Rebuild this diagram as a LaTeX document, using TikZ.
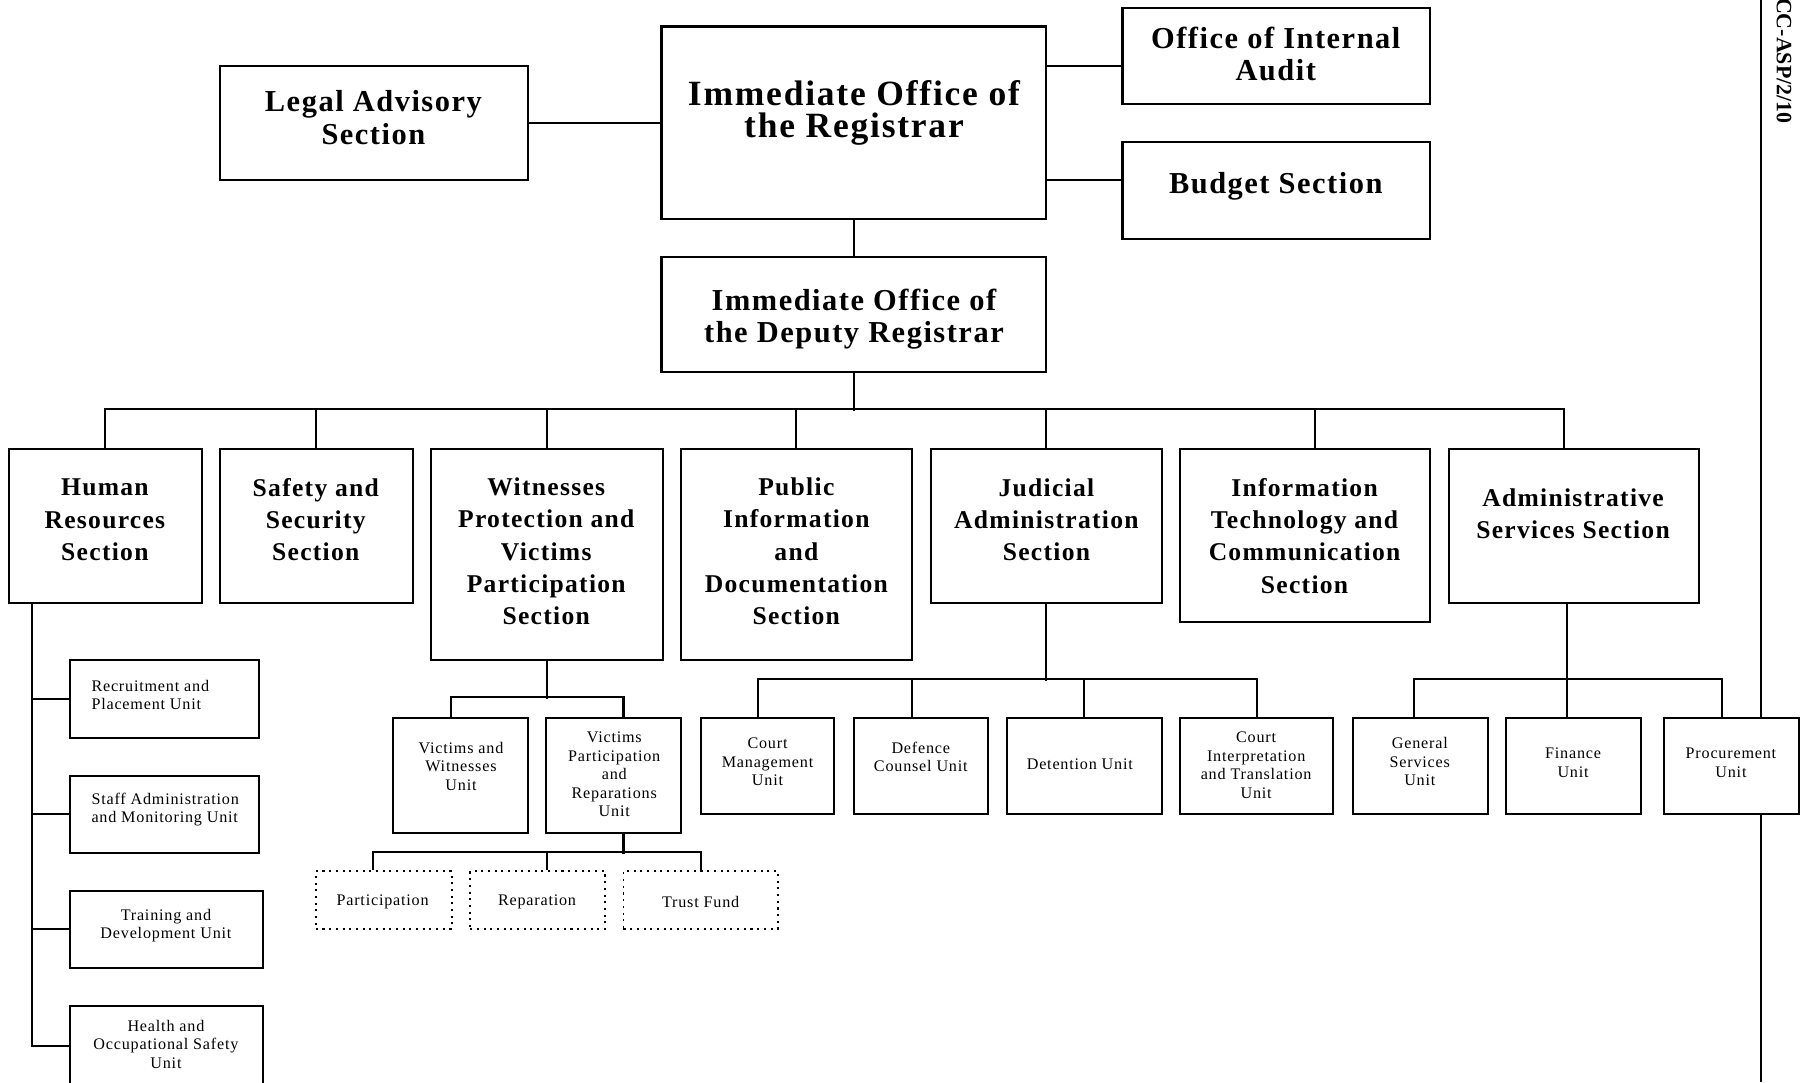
\documentclass[tikz,border=0pt]{standalone}
\usepackage{fontspec}
\setmainfont{Liberation Serif}
\newfontfamily\iccfont[LetterSpace=5]{Liberation Serif}
\begin{document}
\begin{tikzpicture}[x=1pt,y=-1pt]
        \tikzset{
        icc box/.style={draw,line width=0.9pt,fill=white,inner sep=0},
        icc sub/.style={icc box,dotted,line width=0.7pt},
        icc big/.style={align=center,inner sep=0,font=\iccfont\bfseries\fontsize{15.4}{14}\selectfont},
        icc head/.style={align=center,inner sep=0,font=\iccfont\bfseries\fontsize{13.2}{14}\selectfont},
        icc sect/.style={align=center,inner sep=0,font=\iccfont\bfseries\fontsize{11.1}{14}\selectfont},
        icc unit/.style={align=center,inner sep=0,font=\iccfont\fontsize{7}{8}\selectfont},
        icc line/.style={line width=0.9pt}
        }
        \useasboundingbox (0,0) rectangle (784,469.5);
        \draw[icc line] (764,0) -- (764,469.5);
        \node[rotate=-90,anchor=west,inner sep=0,font=\bfseries\fontsize{9.5}{10}\selectfont] (docsym) at (774,-1) {CC-ASP/2/10};

        \node[icc box,minimum width=133.5pt,minimum height=49.5pt] (las) at (162.25,53.25) {};
        \node[icc box,minimum width=167pt,minimum height=83.5pt] (reg) at (370.5,53.25) {};
        \node[icc box,minimum width=133.5pt,minimum height=41.5pt] (oia) at (553.75,24.25) {};
        \node[icc box,minimum width=133.5pt,minimum height=42pt] (bgs) at (553.75,82.5) {};
        \node[icc box,minimum width=167pt,minimum height=50pt] (dep) at (370.5,136.5) {};
        \node[icc head] (las-t) at (162,51) {Legal Advisory\\Section};
        \node[icc big] (reg-t) at (370.5,49) {Immediate Office of\\the Registrar};
        \node[icc head] (oia-t) at (553.5,23.5) {Office of Internal\\Audit};
        \node[icc head] (bgs-t) at (553.5,81) {Budget Section};
        \node[icc head] (dep-t) at (370.5,138.5) {Immediate Office of\\the Deputy Registrar};

        \node[icc box,minimum width=83.5pt,minimum height=66.5pt] (hrs) at (45.75,228.25) {};
        \node[icc box,minimum width=83.5pt,minimum height=66.5pt] (sss) at (137.25,228.25) {};
        \node[icc box,minimum width=100.5pt,minimum height=91.5pt] (wps) at (237.25,240.75) {};
        \node[icc box,minimum width=100pt,minimum height=91.5pt] (pid) at (345.5,240.75) {};
        \node[icc box,minimum width=100pt,minimum height=66.5pt] (jas) at (454,228.25) {};
        \node[icc box,minimum width=108.5pt,minimum height=75pt] (its) at (566.25,232.5) {};
        \node[icc box,minimum width=108.5pt,minimum height=66.5pt] (ass) at (682.75,228.25) {};
        \node[icc sect] (hrs-t) at (45.5,225.5) {Human\\Resources\\Section};
        \node[icc sect] (sss-t) at (137,225.5) {Safety and\\Security\\Section};
        \node[icc sect] (wps-t) at (237,239.25) {Witnesses\\Protection and\\Victims\\Participation\\Section};
        \node[icc sect] (pid-t) at (345.5,239.25) {Public\\Information\\and\\Documentation\\Section};
        \node[icc sect] (jas-t) at (454,225.5) {Judicial\\Administration\\Section};
        \node[icc sect] (its-t) at (566,232.5) {Information\\Technology and\\Communication\\Section};
        \node[icc sect] (ass-t) at (682.5,223) {Administrative\\Services Section};

        \node[icc box,minimum width=82pt,minimum height=33.5pt] (rpu) at (71.5,303.25) {};
        \node[icc box,minimum width=82pt,minimum height=33.5pt] (sam) at (71.5,353.25) {};
        \node[icc box,minimum width=83.5pt,minimum height=33.5pt] (tdu) at (72.25,403.25) {};
        \node[icc box,minimum width=83.5pt,minimum height=35pt] (hos) at (72.25,454) {};
        \node[icc unit,anchor=west,align=left] (rpu-t) at (39.5,301.5) {Recruitment and\\Placement Unit};
        \node[icc unit,anchor=west,align=left] (sam-t) at (39.5,351.25) {Staff Administration\\and Monitoring Unit};
        \node[icc unit] (tdu-t) at (72,401.5) {Training and\\Development Unit};
        \node[icc unit] (hos-t) at (72,453) {Health and\\Occupational Safety\\Unit};

        \node[icc box,minimum width=58.5pt,minimum height=50pt] (vwu) at (199.75,336.5) {};
        \node[icc box,minimum width=58.5pt,minimum height=50pt] (vpr) at (266.25,336.5) {};
        \node[icc sub,minimum width=59pt,minimum height=25pt] (par) at (166.5,390.5) {};
        \node[icc sub,minimum width=58.5pt,minimum height=25pt] (rep) at (233.25,390.5) {};
        \node[icc sub,minimum width=67pt,minimum height=25pt] (tfd) at (304,390.5) {};
        \node[icc unit] (vwu-t) at (200,332.5) {Victims and\\Witnesses\\Unit};
        \node[icc unit] (vpr-t) at (266.5,336) {Victims\\Participation\\and\\Reparations\\Unit};
        \node[icc unit] (par-t) at (166,391.5) {Participation};
        \node[icc unit] (rep-t) at (233,391.5) {Reparation};
        \node[icc unit] (tfd-t) at (304,391.5) {Trust Fund};

        \node[icc box,minimum width=58pt,minimum height=41.5pt] (cmu) at (333,332.25) {};
        \node[icc box,minimum width=58pt,minimum height=41.5pt] (dcu) at (399.5,332.25) {};
        \node[icc box,minimum width=67pt,minimum height=41.5pt] (dtu) at (470.5,332.25) {};
        \node[icc box,minimum width=66.5pt,minimum height=41.5pt] (ciu) at (545.25,332.25) {};
        \node[icc unit] (cmu-t) at (333,330.5) {Court\\Management\\Unit};
        \node[icc unit] (dcu-t) at (399.5,328.5) {Defence\\Counsel Unit};
        \node[icc unit] (dtu-t) at (468.5,331.5) {Detention Unit};
        \node[icc unit] (ciu-t) at (545,332) {Court\\Interpretation\\and Translation\\Unit};

        \node[icc box,minimum width=58.5pt,minimum height=41.5pt] (gsu) at (616.25,332.25) {};
        \node[icc box,minimum width=58.5pt,minimum height=41.5pt] (fnu) at (682.75,332.25) {};
        \node[icc box,minimum width=58.5pt,minimum height=41.5pt] (pru) at (751.25,332.25) {};
        \node[icc unit] (gsu-t) at (616,330.5) {General\\Services\\Unit};
        \node[icc unit] (fnu-t) at (682.5,331) {Finance\\Unit};
        \node[icc unit] (pru-t) at (751,331) {Procurement\\Unit};

        \draw[icc line] (las.east) -- (las.east -| reg.west);
        \draw[icc line] (reg.east |- 0,28.5) -- (oia.west |- 0,28.5);
        \draw[icc line] (reg.east |- 0,78) -- (bgs.west |- 0,78);
        \draw[icc line] (reg.south) -- (dep.north);

        \draw[icc line] (dep.south) -- ++(0,16.5);
        \draw[icc line] (hrs.north) -- ++(0,-17) -| ([xshift=-4.25pt]ass.north);
        \draw[icc line] (sss.north) -- ++(0,-17);
        \draw[icc line] (wps.north) -- ++(0,-17);
        \draw[icc line] (pid.north) -- ++(0,-17);
        \draw[icc line] (jas.north) -- ++(0,-17);
        \draw[icc line] ([xshift=4.25pt]its.north) -- ++(0,-17);

        \draw[icc line] ([xshift=-31.75pt]hrs.south) |- (hos.west);
        \draw[icc line] (rpu.west) -- ++(-16.5,0);
        \draw[icc line] (sam.west) -- ++(-16.5,0);
        \draw[icc line] (tdu.west) -- ++(-16.5,0);

        \draw[icc line] (wps.south) -- ++(0,16.5);
        \draw[icc line] ([xshift=-4.25pt]vwu.north) -- ++(0,-8.5) -| ([xshift=4.25pt]vpr.north);
        \draw[icc line] ([xshift=4.25pt]vpr.south) -- ++(0,8.5);
        \draw[icc line] ([xshift=-4.5pt]par.north) -- ++(0,-8) -| (tfd.north);
        \draw[icc line] ([xshift=4.15pt]rep.north) -- ++(0,-8);

        \draw[icc line] (jas.south) -- ++(0,33.5);
        \draw[icc line] ([xshift=-4pt]cmu.north) -- ++(0,-16.5) -| (ciu.north);
        \draw[icc line] ([xshift=-4pt]dcu.north) -- ++(0,-16.5);
        \draw[icc line] (dtu.north) -- ++(0,-16.5);

        \draw[icc line] ([xshift=-2.75pt]ass.south) -- ++(0,33.5);
        \draw[icc line] ([xshift=-2.75pt]gsu.north) -- ++(0,-16.5) -| ([xshift=-4.25pt]pru.north);
        \draw[icc line] ([xshift=-2.75pt]fnu.north) -- ++(0,-16.5);
\end{tikzpicture}
\end{document}
